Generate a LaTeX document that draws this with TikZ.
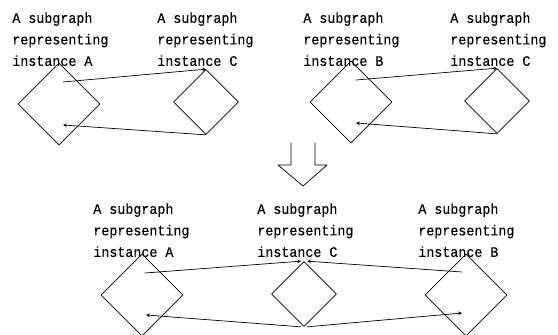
\documentclass[tikz,border=0pt]{standalone}
\usepackage{fontspec}
\setmonofont[FakeStretch=0.92,FakeBold=0.4]{Liberation Mono}
\usetikzlibrary{shapes.geometric}
\tikzset{
	sub/.style={draw,diamond,inner sep=0,aspect=1,line width=.7pt},
	big/.style={sub,minimum width=82pt,minimum height=82pt},
	small/.style={sub,minimum width=65pt,minimum height=65pt},
	lbl/.style={anchor=north west,inner sep=0,align=left,font=\ttfamily\fontsize{14.5}{21.5}\selectfont},
}
\begin{document}
\begin{tikzpicture}[>=stealth,line join=round,line cap=round,x=1pt,y=-1pt,line width=.7pt]
	\useasboundingbox (0,0) rectangle (558,335);
	% top left pair
	\node[big] (A1) at (59,104) {};
	\node[small] (C1) at (206,102) {};
	\node[lbl] (tA1) at (12,12) {A subgraph\\representing\\instance A};
	\node[lbl] (tC1) at (157,12) {A subgraph\\representing\\instance C};
	\draw[->] ([shift={(4,-22)}]A1.center) -- (C1.north);
	\draw[->] (C1.south) -- ([shift={(4,21)}]A1.center);
	% top right pair
	\node[big] (B2) at (351,102) {};
	\node[small] (C2) at (497,101) {};
	\node[lbl] (tB2) at (303,12) {A subgraph\\representing\\instance B};
	\node[lbl] (tC2) at (450,12) {A subgraph\\representing\\instance C};
	\draw[->] ([shift={(5,-22)}]B2.center) -- (C2.north);
	\draw[->] (C2.south) -- ([shift={(5,21)}]B2.center);
	% merge
	\draw (291,143)--(291,165)--(278,165)--(303,186)--(327,165)--(315,165)--(315,143);
	% bottom row
	\node[big] (A3) at (142,295) {};
	\node[small] (C3) at (304,294) {};
	\node[big] (B3) at (466,295) {};
	\node[lbl] (tA3) at (93,203) {A subgraph\\representing\\instance A};
	\node[lbl] (tC3) at (257,203) {A subgraph\\representing\\instance C};
	\node[lbl] (tB3) at (418,203) {A subgraph\\representing\\instance B};
	\draw[->] ([shift={(3,-22)}]A3.center) -- ([xshift=-3pt]C3.north);
	\draw[->] ([shift={(-4,-23)}]B3.center) -- ([xshift=3pt]C3.north);
	\draw[->] ([xshift=-3pt]C3.south) -- ([shift={(4,20)}]A3.center);
	\draw[->] ([xshift=3pt]C3.south) -- ([shift={(-4,18)}]B3.center);
\end{tikzpicture}
\end{document}
